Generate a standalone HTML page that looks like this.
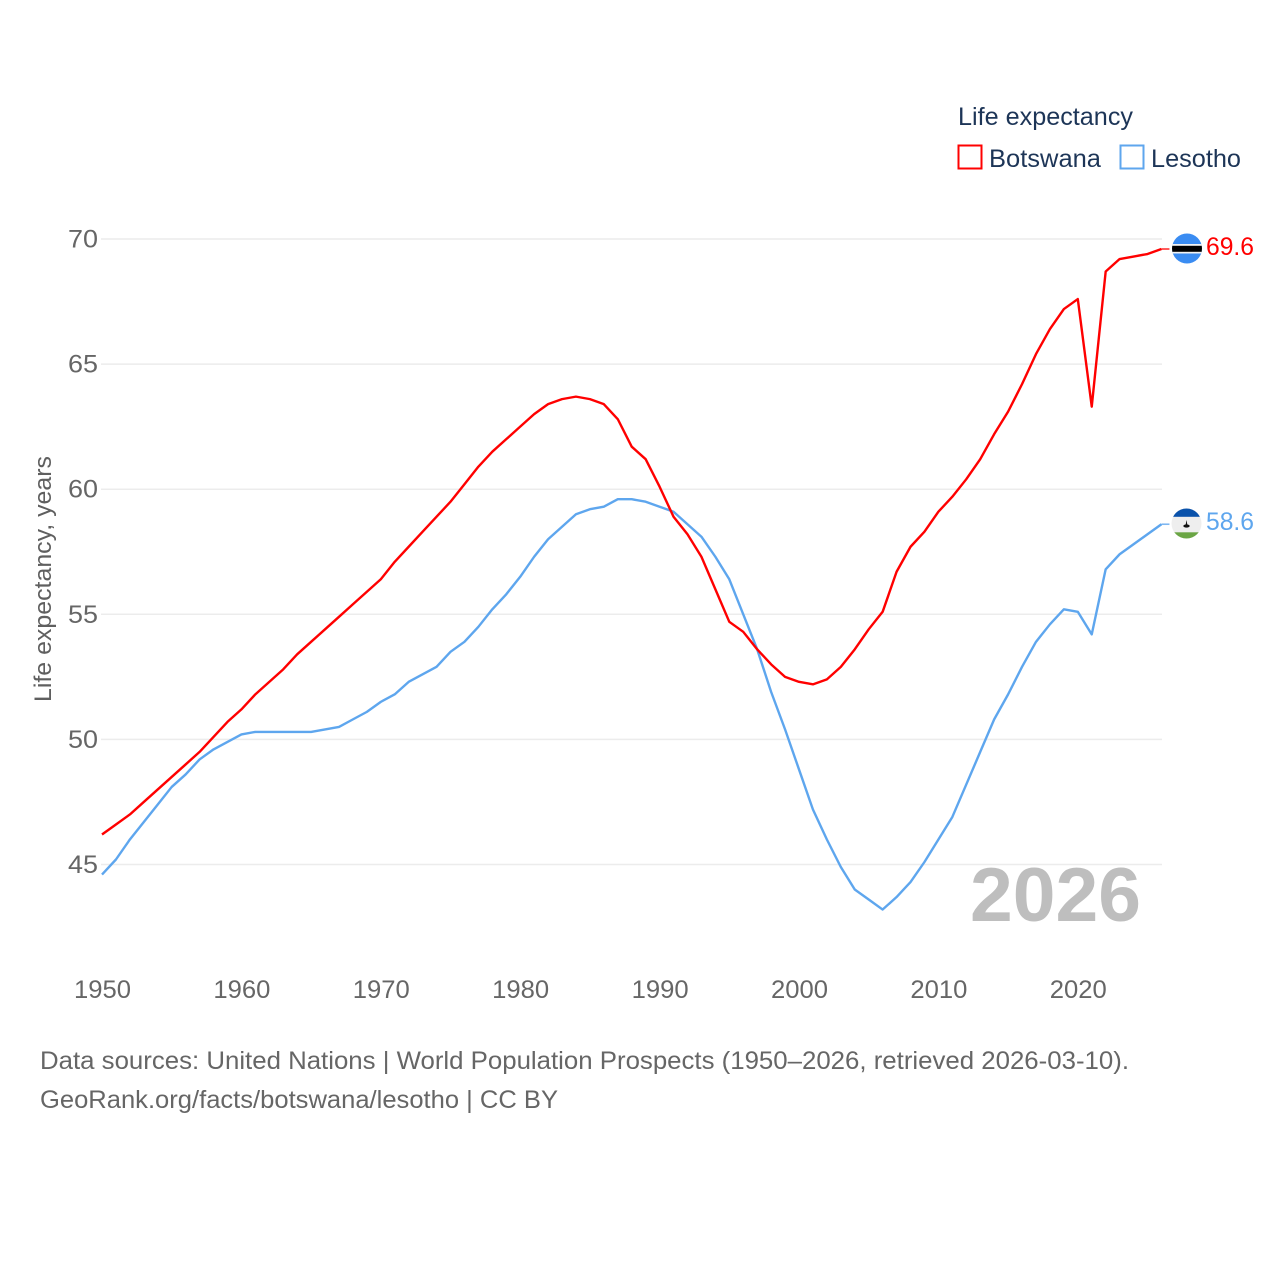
<!DOCTYPE html>
<html lang="en">
<head>
<meta charset="utf-8">
<title>Life expectancy: Botswana and Lesotho</title>
<style>
html,body{margin:0;padding:0;background:#fff;}
svg{display:block;font-family:"Liberation Sans",sans-serif;}
</style>
</head>
<body>
<svg id="chart" width="1280" height="1280" viewBox="0 0 1280 1280" xmlns="http://www.w3.org/2000/svg">
  <rect width="1280" height="1280" fill="#ffffff"/>
  <g id="grid"></g>
  <g id="yticks"></g>
  <g id="xticks"></g>
  <text x="0" y="0" transform="translate(51,702) rotate(-90)" font-size="24" fill="#5f5f5f" textLength="246" lengthAdjust="spacingAndGlyphs">Life expectancy, years</text>
  <text x="1141" y="921" text-anchor="end" font-size="76" font-weight="bold" fill="#bebebe" textLength="171" lengthAdjust="spacingAndGlyphs">2026</text>
  <g id="series"></g>

  <g>
    <text x="958" y="125" font-size="25" fill="#1d3557" textLength="175" lengthAdjust="spacingAndGlyphs">Life expectancy</text>
    <rect x="958.5" y="145.5" width="23" height="23" fill="none" stroke="#ff0000" stroke-width="2"/>
    <text x="989" y="167" font-size="25" fill="#1d3557" textLength="112" lengthAdjust="spacingAndGlyphs">Botswana</text>
    <rect x="1120.5" y="145.5" width="23" height="23" fill="none" stroke="#5ea6ee" stroke-width="2"/>
    <text x="1151" y="167" font-size="25" fill="#1d3557" textLength="90" lengthAdjust="spacingAndGlyphs">Lesotho</text>
  </g>

  <defs>
    <clipPath id="clip-bw"><circle cx="1187" cy="248.5" r="15"/></clipPath>
    <clipPath id="clip-ls"><circle cx="1186.5" cy="523.5" r="15"/></clipPath>
  </defs>
  <g clip-path="url(#clip-bw)">
    <rect x="1170" y="232" width="34" height="34" fill="#3a8cf2"/>
    <rect x="1170" y="244" width="34" height="9.5" fill="#f2f2f2"/>
    <rect x="1170" y="245.8" width="34" height="6" fill="#000000"/>
  </g>
  <g clip-path="url(#clip-ls)">
    <rect x="1170" y="507" width="34" height="34" fill="#eeeeee"/>
    <rect x="1170" y="507" width="34" height="9.8" fill="#0a52ab"/>
    <rect x="1170" y="532.3" width="34" height="9" fill="#6aa544"/>
    <polygon points="1186.5,520 1187.4,525 1185.6,525" fill="#111"/>
    <ellipse cx="1186.5" cy="526" rx="3.2" ry="1.6" fill="#111"/>
  </g>

  <g id="end-labels"></g>

  <text x="40" y="1069" font-size="25" fill="#666666" textLength="1089" lengthAdjust="spacingAndGlyphs">Data sources: United Nations | World Population Prospects (1950–2026, retrieved 2026-03-10).</text>
  <text x="40" y="1108" font-size="25" fill="#666666" textLength="518" lengthAdjust="spacingAndGlyphs">GeoRank.org/facts/botswana/lesotho | CC BY</text>
</svg>

<script>
const startYear = 1950;
const yTickValues = [45, 50, 55, 60, 65, 70];
const xTickYears = [1950, 1960, 1970, 1980, 1990, 2000, 2010, 2020];
const botswanaValues = [
  46.2,46.6,47.0,47.5,48.0,48.5,49.0,49.5,50.1,50.7,
  51.2,51.8,52.3,52.8,53.4,53.9,54.4,54.9,55.4,55.9,
  56.4,57.1,57.7,58.3,58.9,59.5,60.2,60.9,61.5,62.0,
  62.5,63.0,63.4,63.6,63.7,63.6,63.4,62.8,61.7,61.2,
  60.1,58.9,58.2,57.3,56.0,54.7,54.3,53.6,53.0,52.5,
  52.3,52.2,52.4,52.9,53.6,54.4,55.1,56.7,57.7,58.3,
  59.1,59.7,60.4,61.2,62.2,63.1,64.2,65.4,66.4,67.2,
  67.6,63.3,68.7,69.2,69.3,69.4,69.6
];
const lesothoValues = [
  44.6,45.2,46.0,46.7,47.4,48.1,48.6,49.2,49.6,49.9,
  50.2,50.3,50.3,50.3,50.3,50.3,50.4,50.5,50.8,51.1,
  51.5,51.8,52.3,52.6,52.9,53.5,53.9,54.5,55.2,55.8,
  56.5,57.3,58.0,58.5,59.0,59.2,59.3,59.6,59.6,59.5,
  59.3,59.1,58.6,58.1,57.3,56.4,55.0,53.6,51.9,50.4,
  48.8,47.2,46.0,44.9,44.0,43.6,43.2,43.7,44.3,45.1,
  46.0,46.9,48.2,49.5,50.8,51.8,52.9,53.9,54.6,55.2,
  55.1,54.2,56.8,57.4,57.8,58.2,58.6
];
const botswanaLabel = "69.6";
const lesothoLabel = "58.6";

const NS = "http://www.w3.org/2000/svg";
function xScale(year) { return 102 + (year - 1950) * 13.94; }
function yScale(value) { return 239 + (70 - value) * 25.02; }
function make(tag, attrs, parent, text) {
  const el = document.createElementNS(NS, tag);
  Object.keys(attrs).forEach(function (k) { el.setAttribute(k, attrs[k]); });
  if (text !== undefined) el.textContent = text;
  parent.appendChild(el);
  return el;
}

const gridGroup = document.getElementById("grid");
const yGroup = document.getElementById("yticks");
yTickValues.forEach(function (v) {
  const line = make("line", { x1: 101, x2: 1162, y1: yScale(v), y2: yScale(v), stroke: "#ececec", "stroke-width": 1.5 }, gridGroup);
  
  
  const label = make("text", { x: 98, y: yScale(v) + 8.5, "text-anchor": "end", "font-size": 25, fill: "#666666", textLength: 30, lengthAdjust: "spacingAndGlyphs" }, yGroup, String(v));
  
  
});

const xGroup = document.getElementById("xticks");
xTickYears.forEach(function (yr) {
  const label = make("text", { x: xScale(yr) + 0.5, y: 998, "text-anchor": "middle", "font-size": 25, fill: "#666666", textLength: 57, lengthAdjust: "spacingAndGlyphs" }, xGroup, String(yr));
  
  
});

function drawSeries(values, color, name, labelText) {
  const group = document.getElementById("series");
  const pts = values.map(function (v, i) {
    return xScale(startYear + i).toFixed(2) + "," + yScale(v).toFixed(2);
  }).join(" ");
  const line = make("polyline", { points: pts, fill: "none", stroke: color, "stroke-width": 2.4, "stroke-linejoin": "round" }, group);
  
  
  const last = values[values.length - 1];
  const lastX = xScale(startYear + values.length - 1);
  const lastY = yScale(last);
  const stub = make("line", { x1: lastX, x2: lastX + 8, y1: lastY, y2: lastY, stroke: color, "stroke-width": 1.6, opacity: 0.8 }, group);
  
  
  const label = make("text", { x: 1206, y: lastY + 6, "font-size": 25, fill: color, textLength: 48, lengthAdjust: "spacingAndGlyphs" }, document.getElementById("end-labels"), labelText);
  
  
}
drawSeries(lesothoValues, "#5ea6ee", "lesotho", lesothoLabel);
drawSeries(botswanaValues, "#ff0000", "botswana", botswanaLabel);
</script>
</body>
</html>
